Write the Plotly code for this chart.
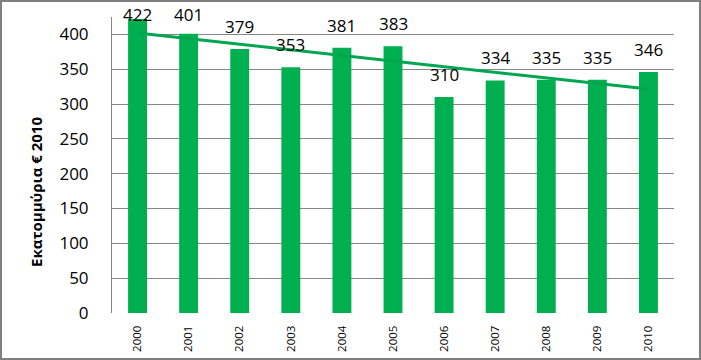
import numpy as np
import plotly.graph_objects as go

years = ["2000", "2001", "2002", "2003", "2004", "2005", "2006", "2007", "2008", "2009", "2010"]
values = [422, 401, 379, 353, 381, 383, 310, 334, 335, 335, 346]
y_ticks = [0, 50, 100, 150, 200, 250, 300, 350, 400]
y_title = "Εκατομμύρια € 2010"

W, H = 701, 360
L, R, T, B = 112, 27, 17, 47
pw, ph = W - L - R, H - T - B
YMAX = 425

idx = np.arange(len(values))
slope, intercept = np.polyfit(idx, values, 1)
trend = slope * idx + intercept

fig = go.Figure()
fig.add_trace(go.Bar(
    x=years, y=values, width=0.37,
    marker=dict(color="#00B050", line=dict(width=0)),
    showlegend=False, hoverinfo="skip",
))
fig.add_trace(go.Scatter(
    x=years, y=trend, mode="lines",
    line=dict(color="#00A550", width=3), showlegend=False, hoverinfo="skip",
))

# value labels above bars, kept inside the chart area at the top
LABEL_GAP, LABEL_H, TOP_LIMIT = 9, 24, 4
for i, v in enumerate(values):
    bar_top = T + ph * (1 - v / YMAX)
    box_top = bar_top - LABEL_GAP - LABEL_H
    shift = LABEL_GAP - max(0, TOP_LIMIT - box_top)
    fig.add_annotation(
        x=i, y=v, xref="x", yref="y", text=str(v), showarrow=False,
        yanchor="bottom", yshift=shift,
        font=dict(family="Open Sans", size=17, color="#000000"),
    )

fig.update_layout(
    width=W, height=H,
    margin=dict(l=L, r=R, t=T, b=B, pad=0, autoexpand=False),
    paper_bgcolor="#FFFFFF", plot_bgcolor="#FFFFFF",
    font=dict(family="Open Sans", color="#000000"),
)
fig.update_xaxes(
    type="category", range=[-0.5, len(years) - 0.5], tickangle=-90, automargin=False,
    tickfont=dict(family="Open Sans", size=11.5, color="#000000"),
    showline=False, showgrid=False, ticks="outside", ticklen=7, tickcolor="rgba(0,0,0,0)",
)
fig.update_yaxes(
    range=[0, YMAX], tickvals=y_ticks, automargin=False,
    tickfont=dict(family="Open Sans", size=17, color="#000000"),
    showgrid=True, gridcolor="#868686", gridwidth=1,
    showline=True, linecolor="#868686", linewidth=1,
    zeroline=False, ticks="", ticklabelstandoff=19,
)
fig.add_annotation(
    text="<b>" + y_title + "</b>", xref="paper", yref="paper",
    x=(36 - L) / pw, y=(H - B - 192) / ph, xanchor="center", yanchor="middle",
    textangle=-90, showarrow=False,
    font=dict(family="Open Sans", size=15, color="#000000"),
)
fig.add_shape(
    type="rect", xref="paper", yref="paper",
    x0=(1 - L) / pw, x1=(W - 1 - L) / pw,
    y0=-(B - 1) / ph, y1=(ph + T - 1) / ph,
    line=dict(color="#7F7F7F", width=2), layer="above",
)

fig.write_html(
    "out.html",
    config={"displayModeBar": False},
    post_script="document.body.style.margin='0';document.body.style.overflow='hidden';",
)
